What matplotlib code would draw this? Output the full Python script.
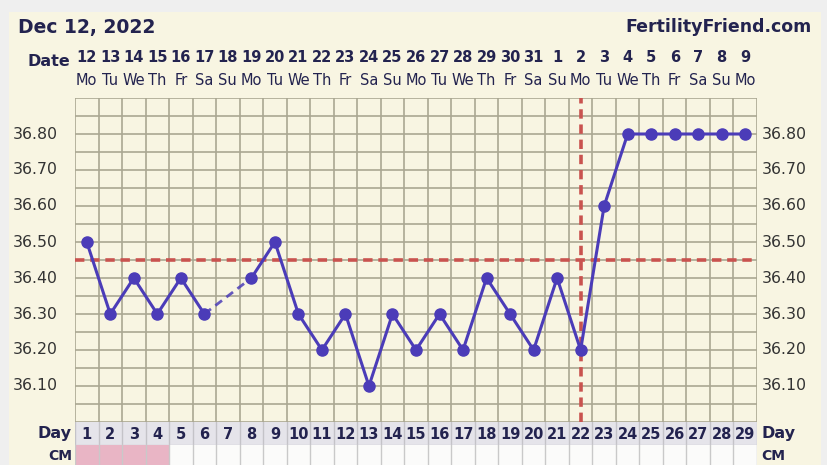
import matplotlib
matplotlib.use("Agg")
import matplotlib.pyplot as plt
import numpy as np
from matplotlib.patches import Rectangle

# ---------------- data ----------------
cycle_days = list(range(1, 30))
dates = ["12", "13", "14", "15", "16", "17", "18", "19", "20", "21", "22", "23", "24", "25",
         "26", "27", "28", "29", "30", "31", "1", "2", "3", "4", "5", "6", "7", "8", "9"]
weekdays = ["Mo", "Tu", "We", "Th", "Fr", "Sa", "Su"] * 4 + ["Mo"]
temps = [36.50, 36.30, 36.40, 36.30, 36.40, 36.30, None, 36.40, 36.50, 36.30,
         36.20, 36.30, 36.10, 36.30, 36.20, 36.30, 36.20, 36.40, 36.30, 36.20,
         36.40, 36.20, 36.60, 36.80, 36.80, 36.80, 36.80, 36.80, 36.80]
temp_ticks = [36.10, 36.20, 36.30, 36.40, 36.50, 36.60, 36.70, 36.80]
coverline = 36.45
ovulation_day = 22
menses_days = [1, 2, 3, 4]
title_date = "Dec 12, 2022"
brand = "FertilityFriend.com"

# ---------------- style ----------------
W, H = 828, 465
CREAM = "#f8f5e2"
OUTER = "#efefef"
GRID = "#aaa792"
NAVY = "#23234f"
LINE = "#4b3cb8"
RED = "#c9534f"

fig = plt.figure(figsize=(W / 100, H / 100), dpi=100)
fig.patch.set_facecolor(OUTER)

def fx(px):
    return px / W

def fy(py):
    return 1 - py / H

# cream panel as a background axes
bg = fig.add_axes([fx(9), 0, fx(821) - fx(9), fy(12)], zorder=-10)
bg.set_facecolor(CREAM)
bg.set_xticks([]); bg.set_yticks([])
for s in bg.spines.values():
    s.set_visible(False)

L, R = 75, 757
T, B = 98, 422
ax = fig.add_axes([fx(L), fy(B), fx(R) - fx(L), fy(T) - fy(B)])
ax.set_facecolor(CREAM)
ax.set_xlim(0.5, 29.5)
ax.set_ylim(36.00, 36.90)
for s in ax.spines.values():
    s.set_visible(False)
ax.set_xticks([])
ax.set_yticks([])

# grid
for xv in np.arange(0.5, 30, 1.0):
    ax.axvline(xv, color=GRID, lw=1.2, zorder=1)
for yv in np.arange(36.00, 36.91, 0.05):
    ax.axhline(yv, color=GRID, lw=1.2, zorder=1)

# tick labels on both sides
for t in temp_ticks:
    ax.text(-0.25, t, f"{t:.2f}", ha="right", va="center", fontsize=11.3,
            color="#333333", clip_on=False)
    ax.text(29.5 + 0.2, t, f"{t:.2f}", ha="left", va="center", fontsize=11.3,
            color="#333333", clip_on=False)

# coverline & ovulation line
ax.axhline(coverline, color=RED, lw=2.6, ls=(0, (2.6, 1.6)), zorder=2)
ax.axvline(ovulation_day, color=RED, lw=2.6, ls=(0, (2.6, 1.6)), zorder=2)

# temperature curve: solid segments between consecutive days, dashed across gaps
xs = np.array(cycle_days, dtype=float)
ys = np.array([np.nan if v is None else v for v in temps])
ax.plot(xs, ys, color=LINE, lw=2.2, zorder=4, solid_joinstyle="round")
valid = [i for i in range(len(ys)) if not np.isnan(ys[i])]
for a, b in zip(valid[:-1], valid[1:]):
    if b - a > 1:
        ax.plot([xs[a], xs[b]], [ys[a], ys[b]], color=LINE, lw=2.0, ls=(0, (3, 2)),
                alpha=0.85, zorder=4)
ax.plot(xs, ys, ls="none", marker="o", ms=8, color=LINE, zorder=5)

# ---------------- Day row ----------------
ax_day = fig.add_axes([fx(L), fy(445), fx(R) - fx(L), fy(422) - fy(445)])
ax_day.set_xlim(0.5, 29.5)
ax_day.set_ylim(0, 1)
ax_day.set_facecolor("#e5e4ea")
ax_day.set_xticks([]); ax_day.set_yticks([])
for s in ax_day.spines.values():
    s.set_visible(False)
for xv in np.arange(0.5, 30, 1.0):
    ax_day.axvline(xv, color="#c4c3c8", lw=1.0)
ax_day.axhline(0.0, color="#d0cfd4", lw=1)
for d in cycle_days:
    ax_day.text(d, 0.47, str(d), ha="center", va="center", fontsize=10.5,
                fontweight="bold", color=NAVY)

# ---------------- CM row ----------------
ax_cm = fig.add_axes([fx(L), 0, fx(R) - fx(L), fy(445)])
ax_cm.set_xlim(0.5, 29.5)
ax_cm.set_ylim(0, 1)
ax_cm.set_facecolor("#fbfbfa")
ax_cm.set_xticks([]); ax_cm.set_yticks([])
for s in ax_cm.spines.values():
    s.set_visible(False)
for d in menses_days:
    ax_cm.add_patch(Rectangle((d - 0.5, 0), 1, 1, facecolor="#e9b5c5", edgecolor="none"))
for xv in np.arange(0.5, 30, 1.0):
    ax_cm.axvline(xv, color="#c9c9c9", lw=1.0)

# ---------------- header texts ----------------
fig.text(fx(18), fy(27), title_date, ha="left", va="center", fontsize=13.5,
         fontweight="bold", color=NAVY)
fig.text(fx(812), fy(27), brand, ha="right", va="center", fontsize=12.5,
         fontweight="bold", color=NAVY)
fig.text(fx(70), fy(62), "Date", ha="right", va="center", fontsize=11.5,
         fontweight="bold", color=NAVY)
for i, d in enumerate(cycle_days):
    x = ax.transData.transform((d, 36.0))[0]
    fig.text(x / W, fy(57), dates[i], ha="center", va="center", fontsize=10.5,
             fontweight="bold", color=NAVY)
    fig.text(x / W, fy(80), weekdays[i], ha="center", va="center", fontsize=10.5,
             color=NAVY)

fig.text(fx(72), fy(433), "Day", ha="right", va="center", fontsize=11.5,
         fontweight="bold", color=NAVY)
fig.text(fx(762), fy(433), "Day", ha="left", va="center", fontsize=11.5,
         fontweight="bold", color=NAVY)
fig.text(fx(72), fy(456), "CM", ha="right", va="center", fontsize=10,
         fontweight="bold", color=NAVY)
fig.text(fx(761), fy(456), "CM", ha="left", va="center", fontsize=10,
         fontweight="bold", color=NAVY)

fig.savefig("out.png", dpi=100, facecolor=fig.get_facecolor())
